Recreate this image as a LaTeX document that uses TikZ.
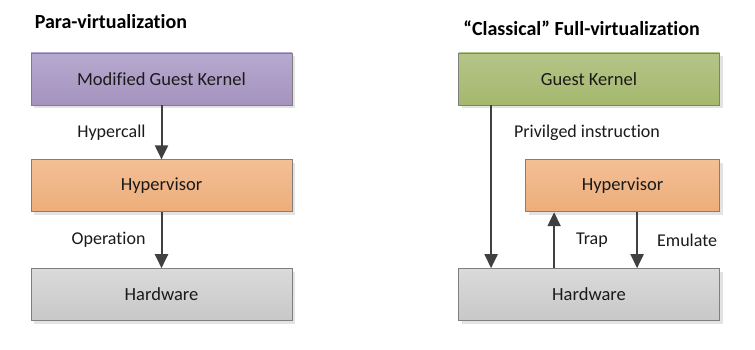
\documentclass[tikz,border=0pt]{standalone}
\usepackage{fontspec}
\setmainfont{Carlito}[Ligatures=NoCommon]
\usetikzlibrary{arrows.meta,positioning,shadows}
\definecolor{Ink}{HTML}{1A1A1A}
\definecolor{Wire}{HTML}{404040}
\definecolor{Frame}{HTML}{7F7F7F}
\definecolor{Shade}{HTML}{E3E3E3}
\definecolor{LilacTop}{HTML}{B6A9CF}
\definecolor{LilacBot}{HTML}{A593BE}
\definecolor{OliveTop}{HTML}{B4C588}
\definecolor{OliveBot}{HTML}{A5B86E}
\definecolor{PeachTop}{HTML}{F3BF95}
\definecolor{PeachBot}{HTML}{EDAD7A}
\definecolor{SteelTop}{HTML}{DADADA}
\definecolor{SteelBot}{HTML}{C8C8C8}
\tikzset{
  layer/.style={draw=Frame,line width=0.8pt,minimum width=261pt,minimum height=52pt,align=center,font=\fontsize{18.5}{21}\selectfont,text=Ink,drop shadow={shadow xshift=3pt,shadow yshift=-3pt,fill=Shade,opacity=1}},
  guest/.style={layer,top color=LilacTop,bottom color=LilacBot},
  fullguest/.style={layer,top color=OliveTop,bottom color=OliveBot},
  hyper/.style={layer,top color=PeachTop,bottom color=PeachBot},
  hw/.style={layer,top color=SteelTop,bottom color=SteelBot},
  title/.style={font=\fontsize{20}{23}\selectfont\bfseries,text=black,inner sep=0pt,anchor=base west},
  lbl/.style={font=\fontsize{18}{21}\selectfont,text=Ink,inner sep=0pt},
  arr/.style={-{Triangle[length=14pt,width=13pt]},draw=Wire,line width=2pt}
}
\begin{document}
\begin{tikzpicture}[x=1pt,y=1pt,node distance=54pt]
  \useasboundingbox (0,0) rectangle (755,-350);
  % para-virtualization
  \node[guest] (pgk) at (161.5,-79) {Modified Guest Kernel};
  \node[hyper,below=of pgk] (phv) {Hypervisor};
  \node[hw,below=56pt of phv] (phw) {Hardware};
  \node[title] (ptitle) at ([xshift=4pt,yshift=24pt]pgk.north west) {Para-virtualization};
  \draw[arr] (pgk) -- node[lbl,left=15pt,pos=0.5] (hcall) {Hypercall} (phv);
  \draw[arr] (phv) -- node[lbl,left=15pt,pos=0.5] (oper) {Operation} (phw);
  % classical full-virtualization
  \node[fullguest] (fgk) at (589,-79) {Guest Kernel};
  \node[hyper,minimum width=194pt,below=of fgk.south east,anchor=north east] (fhv) {Hypervisor};
  \node[hw,below=56pt of fhv.south east,anchor=north east] (fhw) {Hardware};
  \node[title] (ftitle) at ([xshift=5pt,yshift=17pt]fgk.north west) {“Classical” Full-virtualization};
  \draw[arr] ([xshift=33pt]fgk.south west) -- node[lbl,anchor=west,pos=0.167,xshift=22pt] (priv) {Privilged instruction} ([xshift=33pt]fgk.south west |- fhw.north);
  \draw[arr] ([xshift=29pt]fhv.south west |- fhw.north) -- node[lbl,anchor=west,pos=0.5,xshift=21pt] (trap) {Trap} ([xshift=29pt]fhv.south west);
  \draw[arr] ([xshift=112pt]fhv.south west) -- node[lbl,anchor=west,pos=0.5,xshift=19pt] (emu) {Emulate} ([xshift=112pt]fhv.south west |- fhw.north);
\end{tikzpicture}
\end{document}
